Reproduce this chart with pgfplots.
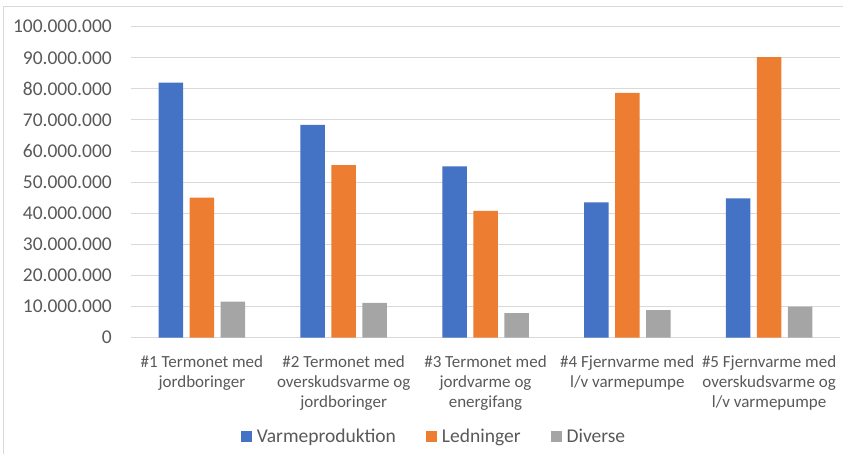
\documentclass[border=0pt]{standalone}
\usepackage{pgfplots}
\pgfplotsset{compat=1.18}
\usepackage{fontspec}
\setmainfont{Carlito}
\definecolor{cblue}{HTML}{4472C4}
\definecolor{corange}{HTML}{ED7D31}
\definecolor{cgray}{HTML}{A5A5A5}
\definecolor{txtgray}{HTML}{595959}
\definecolor{gridgray}{HTML}{D9D9D9}
\begin{document}
\begin{tikzpicture}
\useasboundingbox (0pt,0pt) rectangle (843pt,-454pt);
% chart border (only left and top are visible in the screenshot)
\draw[gridgray, line width=1pt] (3pt,-460pt) -- (3pt,-7pt) -- (850pt,-7pt);
\begin{axis}[
  at={(131pt,-337.7pt)}, anchor=south west,
  scale only axis, width=709pt, height=311pt,
  ybar=6.5pt, bar width=24.5pt,
  xmin=-0.5, xmax=4.5, ymin=0, ymax=100000000,
  ytick={0,10000000,20000000,30000000,40000000,50000000,60000000,70000000,80000000,90000000,100000000},
  scaled y ticks=false,
  yticklabel style={/pgf/number format/.cd, fixed, 1000 sep={.}, assume math mode=true,
    /tikz/.cd, font=\fontsize{19.5}{22}\selectfont, text=txtgray, anchor=east, inner sep=0pt, xshift=-19pt},
  xtick={0,1,2,3,4},
  xticklabels={{\#1 Termonet med\\jordboringer},
               {\#2 Termonet med\\overskudsvarme og\\jordboringer},
               {\#3 Termonet med\\jordvarme og\\energifang},
               {\#4 Fjernvarme med\\l/v varmepumpe},
               {\#5 Fjernvarme med\\overskudsvarme og\\l/v varmepumpe}},
  xticklabel style={align=center, font=\fontsize{17}{20}\selectfont, text=txtgray, anchor=north, inner sep=0pt, yshift=-14pt},
  axis lines*=left,
  y axis line style={draw=none},
  x axis line style={gridgray, line width=1pt},
  tick style={draw=none},
  ymajorgrids,
  major grid style={gridgray, line width=1pt},
  legend style={at={(0.426,-0.319)}, anchor=center, draw=none, fill=none,
    font=\fontsize{19.5}{22}\selectfont, text=txtgray,
    legend columns=3,
    nodes={inner sep=0pt},
    /tikz/every odd column/.append style={column sep=5pt},
    /tikz/every even column/.append style={column sep=30pt}},
  legend image code/.code={\fill[#1] (0pt,-5.5pt) rectangle (11pt,5.5pt);},
]
\addplot[fill=cblue, draw=none] coordinates {(0,82000000) (1,68400000) (2,55100000) (3,43500000) (4,44800000)};
\addplot[fill=corange, draw=none] coordinates {(0,45000000) (1,55500000) (2,40800000) (3,78700000) (4,90200000)};
\addplot[fill=cgray, draw=none] coordinates {(0,11600000) (1,11200000) (2,7900000) (3,8900000) (4,10000000)};
\legend{Varmeproduktion, Ledninger, Diverse}
\end{axis}
\end{tikzpicture}
\end{document}
